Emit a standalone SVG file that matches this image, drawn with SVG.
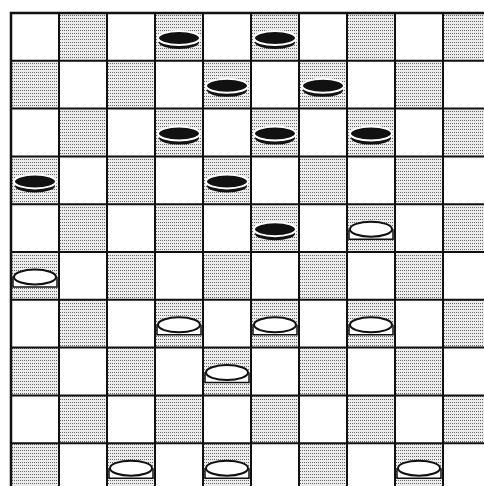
<svg xmlns="http://www.w3.org/2000/svg" width="484" height="486" viewBox="0 0 484 486">
<style>
.sh{fill:url(#dots)}
.grid{stroke:#111;stroke-width:2;fill:none}
</style>
<defs>
<pattern id="dots" patternUnits="userSpaceOnUse" width="2" height="3">
<rect width="2" height="3" fill="#ececec"/>
<rect width="1" height="1" fill="#666"/>
</pattern>
<g id="bp"><ellipse cx="0" cy="4.5" rx="20" ry="6.5" fill="#111"/><ellipse rx="21" ry="7" fill="#111" stroke="#fff" stroke-width="2"/></g>
<g id="wp"><path d="M-22,0 V10 H22 V0" fill="#fff" stroke="#111" stroke-width="1.5"/><ellipse rx="21" ry="7.5" fill="#fff" stroke="#111" stroke-width="2"/></g>
</defs>
<rect width="484" height="486" fill="#fff"/>
<g id="board">
<rect x="11" y="13" width="480" height="480" fill="#fff"/>
<rect class="sh" x="59" y="13" width="48" height="47.8"/><rect class="sh" x="155" y="13" width="48" height="47.8"/><rect class="sh" x="251" y="13" width="48" height="47.8"/><rect class="sh" x="347" y="13" width="48" height="47.8"/><rect class="sh" x="443" y="13" width="48" height="47.8"/>
<rect class="sh" x="11" y="60.8" width="48" height="47.8"/><rect class="sh" x="107" y="60.8" width="48" height="47.8"/><rect class="sh" x="203" y="60.8" width="48" height="47.8"/><rect class="sh" x="299" y="60.8" width="48" height="47.8"/><rect class="sh" x="395" y="60.8" width="48" height="47.8"/>
<rect class="sh" x="59" y="108.6" width="48" height="47.8"/><rect class="sh" x="155" y="108.6" width="48" height="47.8"/><rect class="sh" x="251" y="108.6" width="48" height="47.8"/><rect class="sh" x="347" y="108.6" width="48" height="47.8"/><rect class="sh" x="443" y="108.6" width="48" height="47.8"/>
<rect class="sh" x="11" y="156.4" width="48" height="47.8"/><rect class="sh" x="107" y="156.4" width="48" height="47.8"/><rect class="sh" x="203" y="156.4" width="48" height="47.8"/><rect class="sh" x="299" y="156.4" width="48" height="47.8"/><rect class="sh" x="395" y="156.4" width="48" height="47.8"/>
<rect class="sh" x="59" y="204.2" width="48" height="47.8"/><rect class="sh" x="155" y="204.2" width="48" height="47.8"/><rect class="sh" x="251" y="204.2" width="48" height="47.8"/><rect class="sh" x="347" y="204.2" width="48" height="47.8"/><rect class="sh" x="443" y="204.2" width="48" height="47.8"/>
<rect class="sh" x="11" y="252" width="48" height="47.8"/><rect class="sh" x="107" y="252" width="48" height="47.8"/><rect class="sh" x="203" y="252" width="48" height="47.8"/><rect class="sh" x="299" y="252" width="48" height="47.8"/><rect class="sh" x="395" y="252" width="48" height="47.8"/>
<rect class="sh" x="59" y="299.8" width="48" height="47.8"/><rect class="sh" x="155" y="299.8" width="48" height="47.8"/><rect class="sh" x="251" y="299.8" width="48" height="47.8"/><rect class="sh" x="347" y="299.8" width="48" height="47.8"/><rect class="sh" x="443" y="299.8" width="48" height="47.8"/>
<rect class="sh" x="11" y="347.6" width="48" height="47.8"/><rect class="sh" x="107" y="347.6" width="48" height="47.8"/><rect class="sh" x="203" y="347.6" width="48" height="47.8"/><rect class="sh" x="299" y="347.6" width="48" height="47.8"/><rect class="sh" x="395" y="347.6" width="48" height="47.8"/>
<rect class="sh" x="59" y="395.4" width="48" height="47.8"/><rect class="sh" x="155" y="395.4" width="48" height="47.8"/><rect class="sh" x="251" y="395.4" width="48" height="47.8"/><rect class="sh" x="347" y="395.4" width="48" height="47.8"/><rect class="sh" x="443" y="395.4" width="48" height="47.8"/>
<rect class="sh" x="11" y="443.2" width="48" height="47.8"/><rect class="sh" x="107" y="443.2" width="48" height="47.8"/><rect class="sh" x="203" y="443.2" width="48" height="47.8"/><rect class="sh" x="299" y="443.2" width="48" height="47.8"/><rect class="sh" x="395" y="443.2" width="48" height="47.8"/>
<path class="grid" d="M11,12 V492 M59,12 V492 M107,12 V492 M155,12 V492 M203,12 V492 M251,12 V492 M299,12 V492 M347,12 V492 M395,12 V492 M443,12 V492 M10,13 H492 M10,60.8 H492 M10,108.6 H492 M10,156.4 H492 M10,204.2 H492 M10,252 H492 M10,299.8 H492 M10,347.6 H492 M10,395.4 H492 M10,443.2 H492"/>
<path d="M11,12 V492 M10,13 H492" stroke="#111" stroke-width="2.5" fill="none"/>
</g>
<g id="black-pieces">
<use href="#bp" x="179" y="38"/><use href="#bp" x="275" y="38"/>
<use href="#bp" x="227" y="85.8"/><use href="#bp" x="323" y="85.8"/>
<use href="#bp" x="179" y="133.6"/><use href="#bp" x="275" y="133.6"/><use href="#bp" x="371" y="133.6"/>
<use href="#bp" x="35" y="181.4"/><use href="#bp" x="227" y="181.4"/>
<use href="#bp" x="275" y="229.2"/>
</g>
<g id="white-pieces">
<use href="#wp" x="371" y="229.2"/>
<use href="#wp" x="35" y="277"/>
<use href="#wp" x="179" y="324.8"/><use href="#wp" x="275" y="324.8"/><use href="#wp" x="371" y="324.8"/>
<use href="#wp" x="227" y="372.6"/>
<use href="#wp" x="131" y="468.2"/><use href="#wp" x="227" y="468.2"/><use href="#wp" x="419" y="468.2"/>
</g>
</svg>
